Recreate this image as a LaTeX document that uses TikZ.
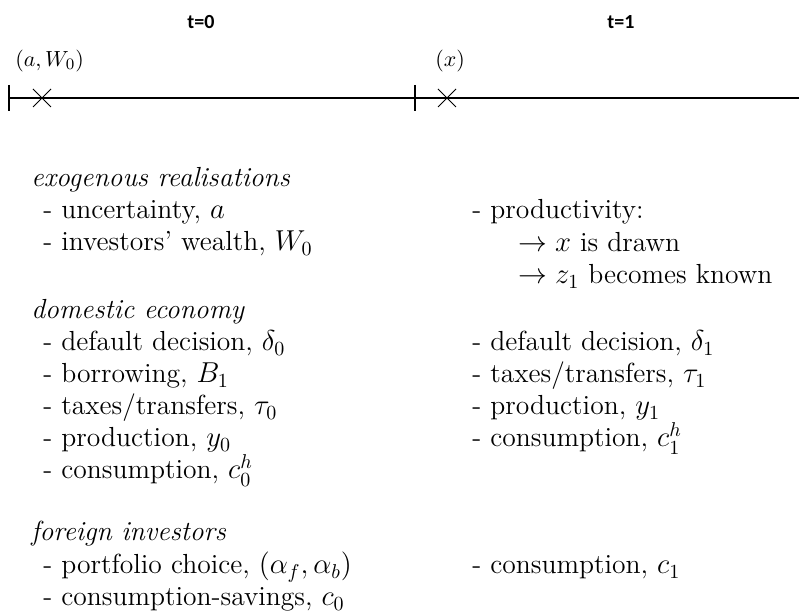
\documentclass[tikz,border=0pt]{standalone}
\usepackage{amsmath,amssymb}
\usepackage{fontspec}
\newfontfamily\labfont{Carlito}
\usepackage{tikz}
\usetikzlibrary{positioning}
\tikzset{
  axis/.style={black, line width=1.3pt},
  tick/.style={black, line width=1.3pt},
  cross/.style={black, line width=0.5pt},
  period/.style={font=\labfont\fontsize{10}{12}\selectfont\bfseries, inner sep=0pt},
  shock/.style={font=\fontsize{11}{13}\selectfont, inner sep=0pt, anchor=west},
  head/.style={font=\fontsize{13.8}{16}\selectfont\itshape, inner sep=0pt, anchor=base west},
  item/.style={font=\fontsize{13.8}{16}\selectfont, inner sep=0pt, anchor=base west},
}

\begin{document}
\begin{tikzpicture}[x=0.5pt,y=-0.5pt]
  \path[use as bounding box] (0,0) rectangle (799,613);

  % time line
  \node[period] (T0) at (201,22) {t=0};
  \node[period] (T1) at (621,22) {t=1};
  \node[shock] (S0) at (15,61) {$(a,W_0)$};
  \node[shock] (S1) at (435,61) {$(x)$};
  \coordinate (L) at (8,98);
  \coordinate (R) at (799,98);
  \coordinate (K0) at (9,98);
  \coordinate (K1) at (415,98);
  \coordinate (X0) at (42,98);
  \coordinate (X1) at (447,98);
  \draw[axis] (L) -- (R);
  \draw[tick] ([shift={(0,-13)}] K0) -- ([shift={(0,13)}] K0);
  \draw[tick] ([shift={(0,-13)}] K1) -- ([shift={(0,13)}] K1);
  \draw[cross] ([shift={(-9,-9)}] X0) -- ([shift={(9,9)}] X0)
               ([shift={(-9,9)}] X0) -- ([shift={(9,-9)}] X0);
  \draw[cross] ([shift={(-9,-9)}] X1) -- ([shift={(9,9)}] X1)
               ([shift={(-9,9)}] X1) -- ([shift={(9,-9)}] X1);

  % t=0 column
  \node[head] (H1) at (31,187) {exogenous realisations};
  \node[item] (A1) at (43,219) {- uncertainty, $a$};
  \node[item] (A2) at (43,251) {- investors' wealth, $W_0$};
  \node[head] (H2) at (31,319) {domestic economy};
  \node[item] (D1) at (43,351) {- default decision, $\delta_0$};
  \node[item] (D2) at (43,383) {- borrowing, $B_1$};
  \node[item] (D3) at (43,415) {- taxes/transfers, $\tau_0$};
  \node[item] (D4) at (43,447) {- production, $y_0$};
  \node[item] (D5) at (43,479) {- consumption, $c_0^h$};
  \node[head] (H3) at (31,541) {foreign investors};
  \node[item] (F1) at (43,574) {- portfolio choice, $(\alpha_f,\alpha_b)$};
  \node[item] (F2) at (43,606) {- consumption-savings, $c_0$};

  % t=1 column
  \node[item] (B1) at (472,219) {- productivity:};
  \node[item] (B2) at (518,252) {$\rightarrow x$ is drawn};
  \node[item] (B3) at (518,284) {$\rightarrow z_1$ becomes known};
  \node[item] (E1) at (472,351) {- default decision, $\delta_1$};
  \node[item] (E2) at (472,383) {- taxes/transfers, $\tau_1$};
  \node[item] (E3) at (472,415) {- production, $y_1$};
  \node[item] (E4) at (472,447) {- consumption, $c_1^h$};
  \node[item] (G1) at (472,574) {- consumption, $c_1$};
\end{tikzpicture}
\end{document}
